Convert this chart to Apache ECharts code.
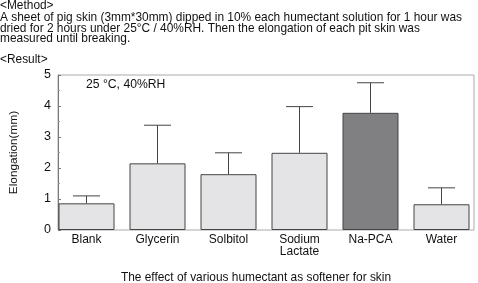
<!DOCTYPE html>
<html><head><meta charset="utf-8">
<script src="https://cdn.jsdelivr.net/npm/echarts@6/dist/echarts.min.js"></script>
<style>html,body{margin:0;padding:0;background:#fff}#c{width:478px;height:283px}</style>
</head><body><div id="c"></div>
<script>
const categories = ['Blank', 'Glycerin', 'Solbitol', 'Sodium\nLactate', 'Na-PCA', 'Water'];
const meanValues = [0.86, 2.15, 1.80, 2.49, 3.78, 0.83];
const errorTops = [1.10, 3.38, 2.49, 3.98, 4.75, 1.36];
const yTicks = [0, 1, 2, 3, 4, 5];
const methodLines = [
  '<Method>',
  'A sheet of pig skin (3mm*30mm) dipped in 10% each humectant solution for 1 hour was',
  'dried for 2 hours under 25°C / 40%RH. Then the elongation of each pit skin was',
  'measured until breaking.',
  '<Result>'
];
const lineY = [6, 17.5, 28.3, 38.5, 60];
const F = 'Liberation Sans, Arial, sans-serif';
const chart = echarts.init(document.getElementById('c'), null, {renderer: 'canvas'});
const txt = methodLines.map((t, i) => ({
  type: 'text', x: 0, y: lineY[i],
  style: {text: t, fontSize: 11.9, fontFamily: F, fill: '#111', verticalAlign: 'middle'}
}));
txt.push({type: 'text', x: 86, y: 85,
  style: {text: '25 °C, 40%RH', fontSize: 12.2, fontFamily: F, fill: '#111', verticalAlign: 'middle'}});
const yMin = yTicks[0], yMax = yTicks[yTicks.length - 1];
chart.setOption({
  animation: false,
  textStyle: {fontFamily: F},
  title: {text: 'The effect of various humectant as softener for skin', left: 251, textAlign: 'center', top: 267,
    textStyle: {fontSize: 11.9, fontWeight: 'normal', color: '#111', fontFamily: F}},
  grid: [
    {left: 51, right: 1, top: 75, bottom: 53},
    {left: 55, right: 4, top: 75, bottom: 53, show: true, borderColor: '#aaa', borderWidth: 1}
  ],
  graphic: txt,
  xAxis: [{
    type: 'category', data: categories, gridIndex: 0,
    axisLine: {show: false},
    axisTick: {inside: true, length: 2, lineStyle: {color: '#888'}},
    axisLabel: {color: '#111', fontSize: 12, margin: 4, lineHeight: 12, fontFamily: F}
  }, {
    type: 'value', gridIndex: 1, show: false, min: 0, max: 1
  }],
  yAxis: [{
    type: 'value', gridIndex: 0, min: yMin, max: yMax, interval: 1, show: false
  }, {
    type: 'value', gridIndex: 1, min: yMin, max: yMax, interval: 1,
    name: 'Elongation(mm)', nameLocation: 'middle', nameGap: 38, nameRotate: 90,
    nameTextStyle: {color: '#111', fontSize: 11.8, fontFamily: F},
    axisLine: {show: true, lineStyle: {color: '#777'}},
    axisTick: {show: true, inside: true, length: 3, lineStyle: {color: '#777'}},
    minorTick: {show: true, splitNumber: 2, length: 2, lineStyle: {color: '#999'}},
    axisLabel: {color: '#111', fontSize: 12.5, margin: 7, fontFamily: F},
    splitLine: {show: false}
  }],
  series: [
    {
      type: 'custom', z: 1, xAxisIndex: 0, yAxisIndex: 0,
      renderItem: function (params, api) {
        const i = api.value(0);
        const p0 = api.coord([i, api.value(1)]);
        const p1 = api.coord([i, api.value(2)]);
        const hw = 13.5;
        return {type: 'group', children: [
          {type: 'line', shape: {x1: p0[0], y1: p0[1], x2: p1[0], y2: p1[1]}, style: {stroke: '#444', lineWidth: 1}},
          {type: 'line', shape: {x1: p1[0] - hw, y1: p1[1], x2: p1[0] + hw, y2: p1[1]}, style: {stroke: '#444', lineWidth: 1}}
        ]};
      },
      data: meanValues.map((v, i) => [i, v, errorTops[i]])
    },
    {
      type: 'bar', z: 2, barWidth: 56, xAxisIndex: 0, yAxisIndex: 0,
      data: meanValues.map((v, i) => ({value: v, itemStyle: {color: i === 4 ? '#808082' : '#e4e4e6'}})),
      itemStyle: {borderColor: '#444', borderWidth: 1}
    }
  ]
});
</script></body></html>
